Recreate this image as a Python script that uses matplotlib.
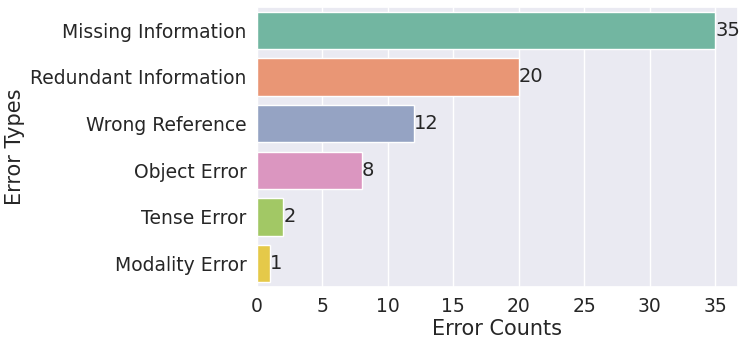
import matplotlib
matplotlib.use("Agg")
import matplotlib.pyplot as plt
import seaborn as sns

error_types = ["Missing Information", "Redundant Information", "Wrong Reference",
               "Object Error", "Tense Error", "Modality Error"]
error_counts = [35, 20, 12, 8, 2, 1]

sns.set_theme(style="darkgrid")
plt.rcParams["font.family"] = ["DejaVu Sans"]

fig, ax = plt.subplots(figsize=(7.48, 3.44), dpi=100)
colors = sns.color_palette("Set2", len(error_types))
sns.barplot(x=error_counts, y=error_types, hue=error_types, palette=colors,
            legend=False, ax=ax, orient="h")

for i, v in enumerate(error_counts):
    ax.text(v, i, str(v), va="center", ha="left", fontsize=14, color="#262626",
            clip_on=False)

ax.set_xlabel("Error Counts", fontsize=15, labelpad=2)
ax.set_ylabel("Error Types", fontsize=15, labelpad=4)
ax.tick_params(axis="both", labelsize=13.5, pad=1.5)
ax.set_xticks([0, 5, 10, 15, 20, 25, 30, 35])

fig.subplots_adjust(left=0.3436, right=0.9866, top=0.98, bottom=0.166)
fig.savefig("out.png", dpi=100)
